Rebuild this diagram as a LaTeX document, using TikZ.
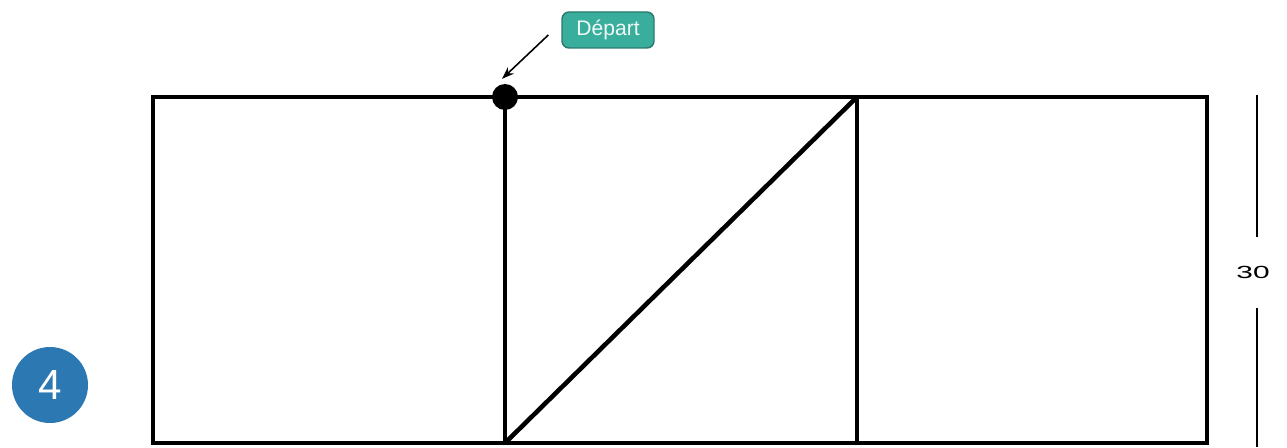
\documentclass[tikz,border=0pt]{standalone}
\usepackage{fontspec}
\setmainfont{Liberation Sans}
\usepackage{tikz}
\usetikzlibrary{arrows.meta}
\definecolor{departteal}{HTML}{3AAE9C}
\definecolor{stepblue}{HTML}{2B78B2}

\begin{document}
\begin{tikzpicture}[x=0.02cm, y=0.02cm, line width=2.6pt]
  \useasboundingbox (0,0) rectangle (1287,447);
  % corners of the three squares
  \coordinate (tl) at (153,350);
  \coordinate (tr) at (1207,350);
  \coordinate (bl) at (153,4);
  \coordinate (br) at (1207,4);
  \coordinate (ma) at (505,350);
  \coordinate (mb) at (505,4);
  \coordinate (na) at (857,350);
  \coordinate (nb) at (857,4);
  % outline and inner lines
  \draw (tl) rectangle (br);
  \draw (ma) -- (mb);
  \draw (na) -- (nb);
  \draw (mb) -- (na);
  % start point
  \fill (ma) circle (13) node (start) {};
  \node[draw=departteal!70!black, fill=departteal, rounded corners=4pt, line width=0.8pt,
        minimum width=92*0.02cm, minimum height=36*0.02cm, inner sep=1pt,
        font=\fontsize{12}{14}\selectfont, text=white!92!departteal] (depart) at (608,417) {Départ};
  \draw[line width=0.9pt, -{Stealth[length=7pt, width=5pt]}] (depart.west) ++(-13,-5) -- ([shift={(-3,10)}]start.north);
  % height dimension
  \node[font=\fontsize{10}{12}\selectfont] (dim) at (1253,175) {\scalebox{1.7}[1]{30}};
  \coordinate (dimtop) at (1257,352);
  \coordinate (dimgapa) at (1257,210);
  \coordinate (dimgapb) at (1257,139);
  \coordinate (dimbot) at (1257,0);
  \draw[line width=0.9pt] (dimtop) -- (dimgapa);
  \draw[line width=0.9pt] (dimgapb) -- (dimbot);
  % step number
  \node[circle, fill=stepblue, minimum size=76*0.02cm, text=white,
        font=\fontsize{24}{26}\selectfont] (num) at (50,62) {4};
\end{tikzpicture}
\end{document}
